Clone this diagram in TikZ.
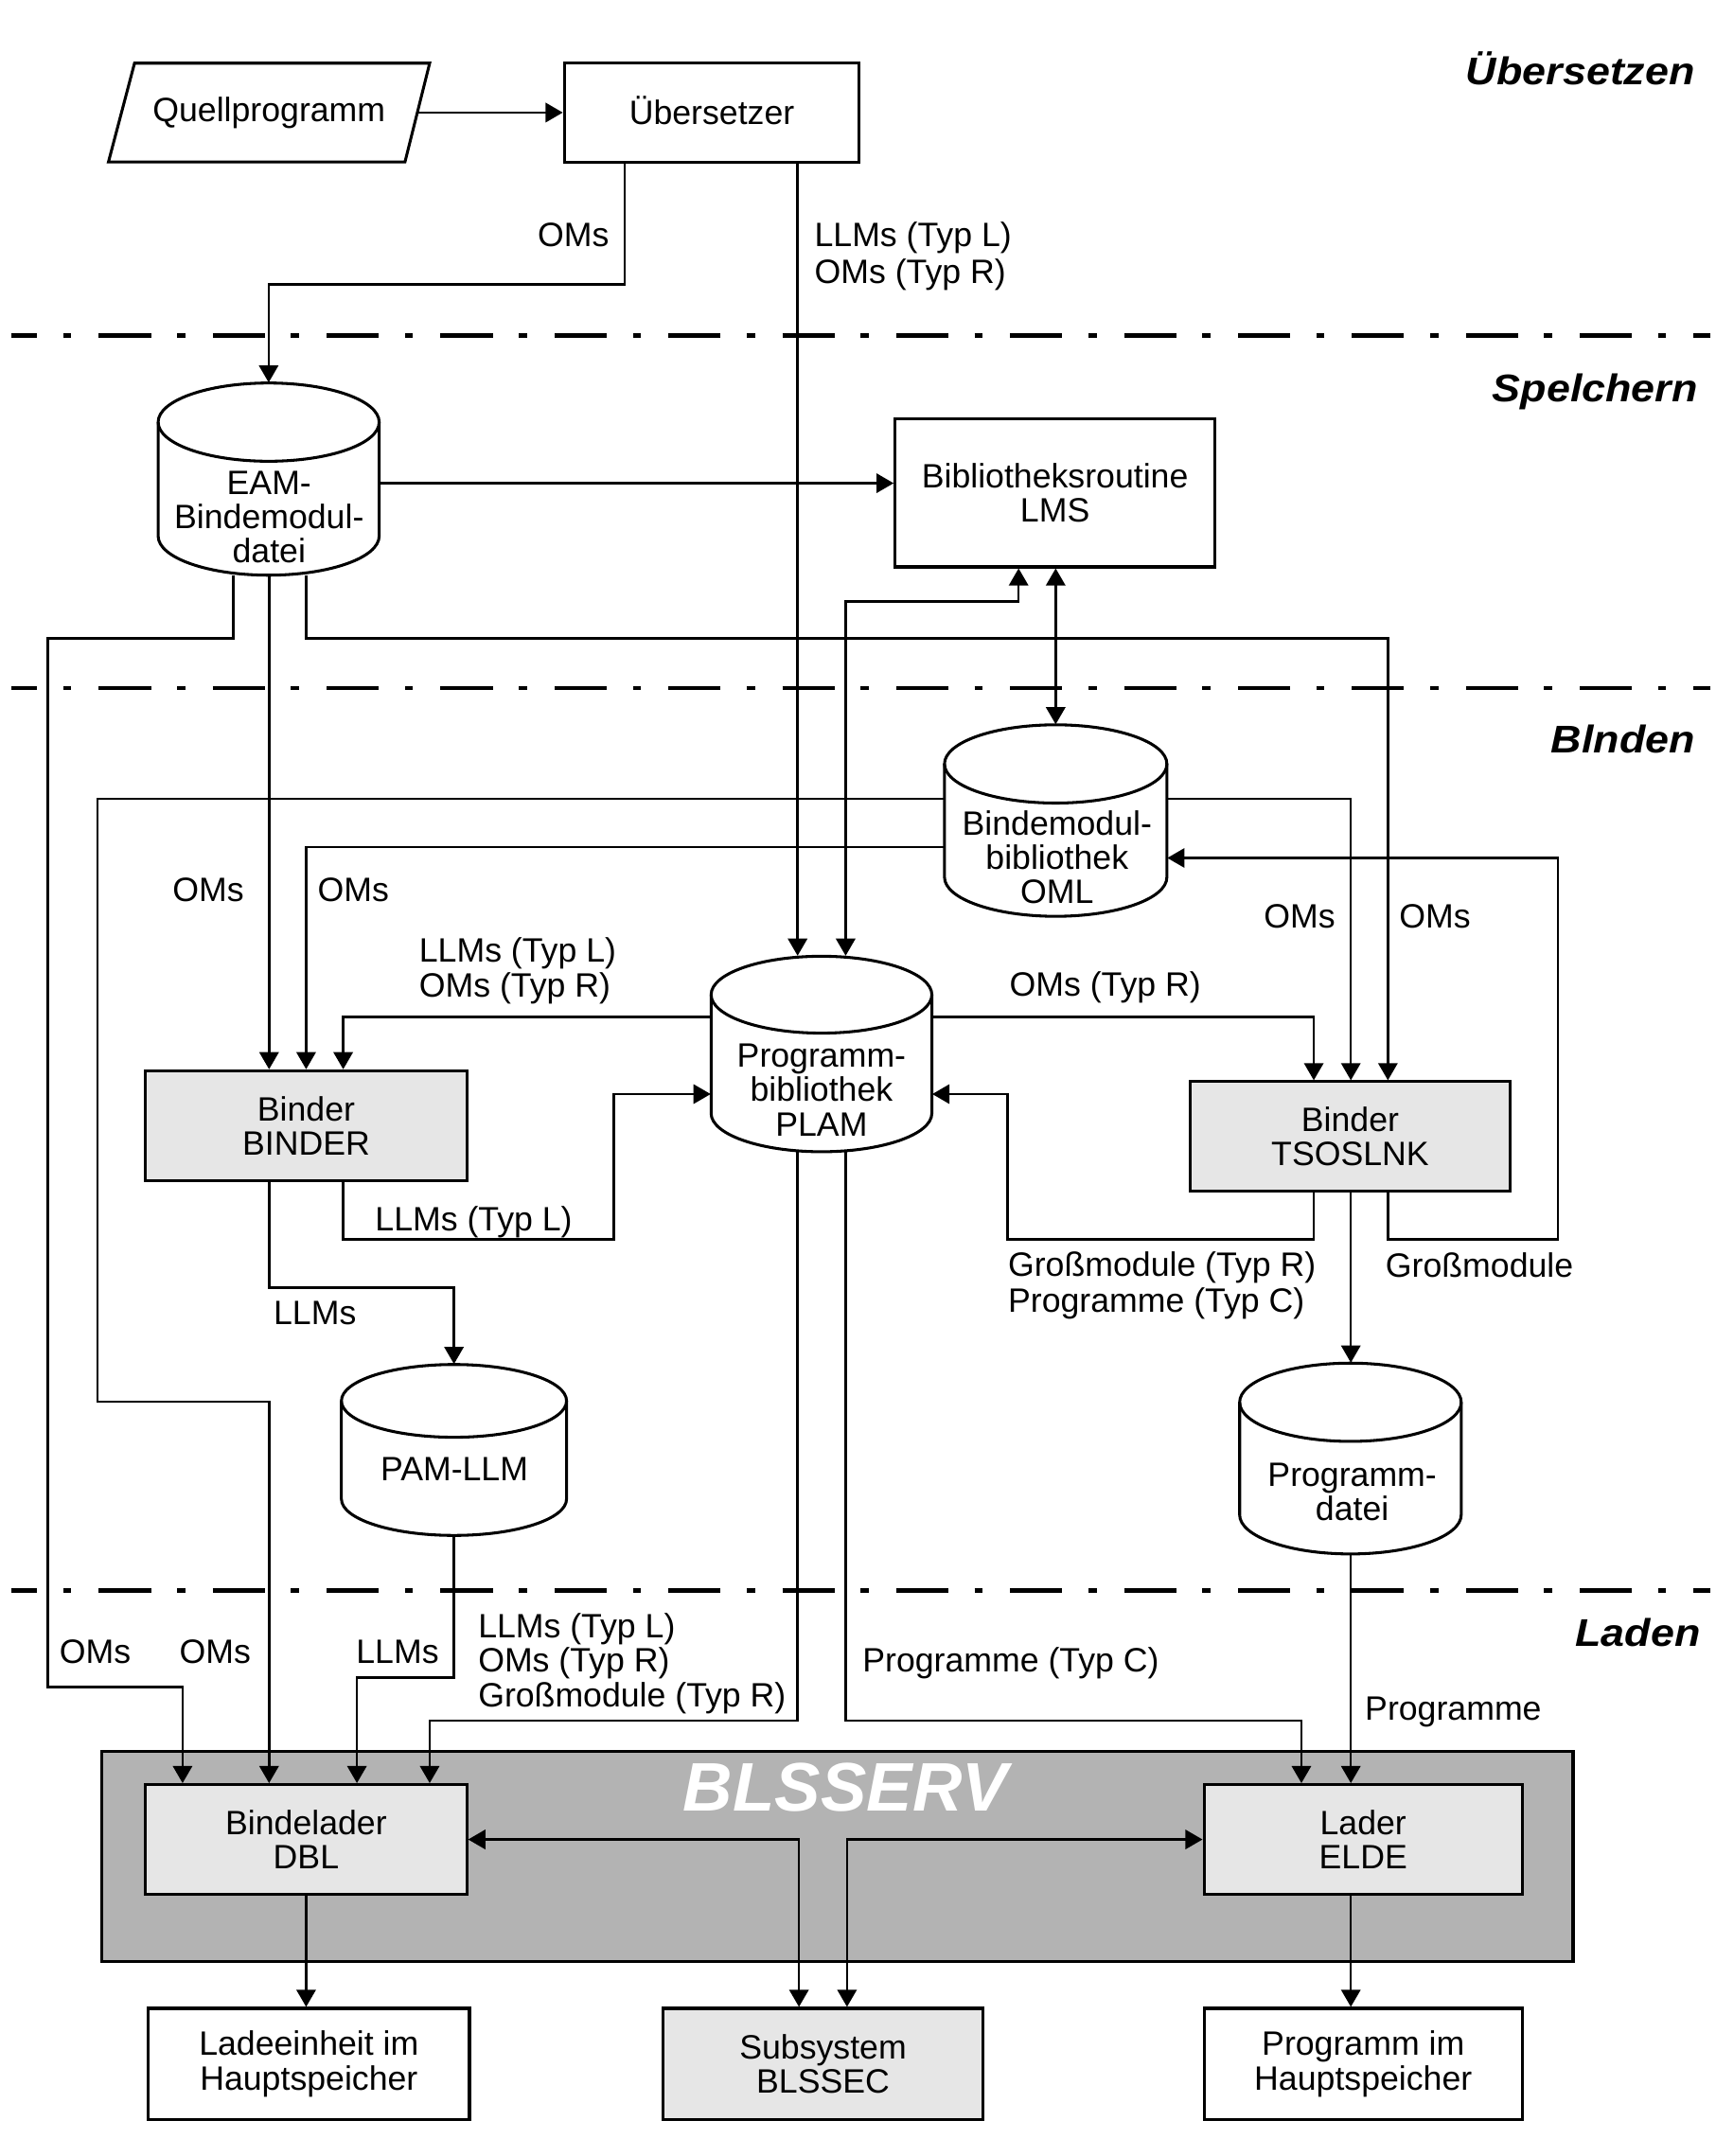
\documentclass[tikz,border=0pt]{standalone}
\usepackage{fontspec}
\setmainfont{Liberation Sans}
\newfontfamily\phasefont[FakeStretch=1.1]{Liberation Sans}
\usetikzlibrary{arrows.meta}
\definecolor{lightfill}{HTML}{E6E6E6}
\definecolor{servfill}{HTML}{B3B3B3}
\newcommand\labfont{\fontsize{14}{14.2}\selectfont}
\newcommand\dbcyl[6]{%
  \fill[white] (#2-#5,#3+#6) -- (#2-#5,#4-#6) arc[start angle=180,end angle=360,x radius=#5*0.02cm,y radius=#6*0.02cm] -- (#2+#5,#3+#6) arc[start angle=0,end angle=180,x radius=#5*0.02cm,y radius=#6*0.02cm] -- cycle;
  \draw[cylline] (#2-#5,#3+#6) -- (#2-#5,#4-#6) arc[start angle=180,end angle=360,x radius=#5*0.02cm,y radius=#6*0.02cm] -- (#2+#5,#3+#6);
  \draw[cylline] (#2,#3+#6) ellipse[x radius=#5*0.02cm,y radius=#6*0.02cm];
  \node[inner sep=0,minimum width=#5*0.04cm,minimum height=(#4-#3)*0.02cm] (#1) at (#2,{(#3+#4)/2}) {};
}
\begin{document}
\begin{tikzpicture}[x=0.02cm,y=-0.02cm,
  conn/.style={line width=1pt},
  arr/.style={conn,-{Triangle[length=0.25cm,width=0.28cm]}},
  darr/.style={conn,{Triangle[length=0.25cm,width=0.28cm]}-{Triangle[length=0.25cm,width=0.28cm]}},
  box/.style={draw,line width=1.2pt,inner sep=0,align=center,font=\labfont,fill=white},
  graybox/.style={box,fill=lightfill},
  lbl/.style={inner sep=0,font=\labfont},
  txt/.style={inner sep=0,font=\labfont,align=center},
  phase/.style={inner sep=0,font=\phasefont\bfseries\itshape\fontsize{16}{18}\selectfont,anchor=base east},
  sep/.style={line width=1.7pt,dash pattern=on 0.76cm off 0.38cm on 0.12cm off 0.4cm,dash phase=0.38cm},
  cylline/.style={line width=1.2pt}]
\useasboundingbox (0,0) rectangle (1250,1570.6);

% separators
\draw[sep] (8,244.4) -- (1246,244.4);
\draw[sep] (8,501) -- (1246,501);
\draw[sep] (8,1158.7) -- (1246,1158.7);

% phase labels
\node[phase] (p1) at (1235,62) {Übersetzen};
\node[phase] (p2) at (1237,292.8) {Spelchern};
\node[phase] (p3) at (1235,548.8) {Blnden};
\node[phase] (p4) at (1239,1199) {Laden};

% BLSSERV frame
\node[draw,line width=1.2pt,fill=servfill,inner sep=0,minimum width=21.44cm,minimum height=3.06cm] (serv) at (610,1352.5) {};
\node[inner sep=0,text=white,font=\bfseries\itshape\fontsize{28.5}{30}\selectfont] (servt) at (616,1302) {BLSSERV};

% top
\draw[line width=1.2pt] (98,46) -- (313,46) -- (295,118) -- (79,118) -- cycle;
\node[inner sep=0,minimum width=4.32cm,minimum height=1.44cm,font=\labfont] (quell) at (196,82) {Quellprogramm};
\node[box,minimum width=4.3cm,minimum height=1.44cm,text height=10pt,text depth=0pt] (ueb) at (518.5,82) {Übersetzer};
\node[box,minimum width=4.66cm,minimum height=2.16cm] (lms) at (768.5,359) {Bibliotheksroutine\\LMS};

% cylinders
\dbcyl{eam}{195.7}{279}{419}{80.5}{28.5}
\node[txt] (eamt) at (196,376.7) {EAM-\\Bindemodul-\\datei};
\dbcyl{oml}{769}{528}{667.5}{81}{28.5}
\node[txt] (omlt) at (770,624.3) {Bindemodul-\\bibliothek\\OML};
\dbcyl{plam}{598.4}{696.6}{839}{80.4}{28}
\node[txt] (plamt) at (598.4,794) {Programm-\\bibliothek\\PLAM};
\dbcyl{pam}{330.7}{994}{1118.5}{82}{26.5}
\node[txt] (pamt) at (331,1070) {PAM-LLM};
\dbcyl{pdat}{983.7}{993}{1132}{80.7}{28.5}
\node[txt] (pdatt) at (985,1087) {Programm-\\datei};

% boxes
\node[graybox,minimum width=4.68cm,minimum height=1.6cm] (binder) at (223,820) {Binder\\BINDER};
\node[graybox,minimum width=4.66cm,minimum height=1.6cm] (tsos) at (983.5,828) {Binder\\TSOSLNK};
\node[graybox,minimum width=4.68cm,minimum height=1.6cm] (dbl) at (223,1340) {Bindelader\\DBL};
\node[graybox,minimum width=4.64cm,minimum height=1.6cm] (elde) at (993,1340) {Lader\\ELDE};
\node[box,minimum width=4.68cm,minimum height=1.62cm] (lade) at (225,1503.5) {Ladeeinheit im\\Hauptspeicher};
\node[graybox,minimum width=4.66cm,minimum height=1.62cm] (sub) at (599.5,1503.5) {Subsystem\\BLSSEC};
\node[box,minimum width=4.64cm,minimum height=1.62cm] (prog) at (993,1503.5) {Programm im\\Hauptspeicher};

% connectors
\draw[arr] (quell.east) -- (ueb.west);
\draw[arr] (ueb.south -| 455,0) -- (455,207) -| (eam.north);
\draw[arr] (ueb.south -| 581,0) -- (plam.north -| 581,0);
\draw[arr] (eam.east |- 0,352) -- (lms.west |- 0,352);
\draw[darr] (plam.north -| 616,0) |- (742,438) -- (lms.south -| 742,0);
\draw[darr] (lms.south -| 769,0) -- (oml.north);
\draw[arr] (eam.south -| 170,0) |- (35,465) |- (133,1229) -- (dbl.north -| 133,0);
\draw[arr] (eam.south -| 196,0) -- (binder.north -| 196,0);
\draw[arr] (eam.south -| 223,0) |- (1011,465) -- (tsos.north -| 1011,0);
\draw[arr] (oml.west |- 0,582) -| (71,1021) -| (dbl.north -| 196,0);
\draw[arr] (oml.west |- 0,617) -| (binder.north);
\draw[arr] (oml.east |- 0,582) -| (tsos.north -| 984,0);
\draw[arr] (tsos.south -| 1011,0) |- (1135,903) |- (oml.east |- 0,625);
\draw[arr] (plam.west |- 0,741) -| (binder.north -| 250,0);
\draw[arr] (plam.east |- 0,741) -| (tsos.north -| 957,0);
\draw[arr] (binder.south -| 250,0) |- (447,903) |- (plam.west |- 0,797);
\draw[arr] (tsos.south -| 957,0) |- (734,903) |- (plam.east |- 0,797);
\draw[arr] (binder.south -| 196,0) -- (196,938) -| (pam.north);
\draw[arr] (pam.south) |- (260,1222) -- (dbl.north -| 260,0);
\draw[arr] (plam.south -| 581,0) |- (313,1253.5) -- (dbl.north -| 313,0);
\draw[arr] (plam.south -| 616,0) |- (948,1253.5) -- (elde.north -| 948,0);
\draw[arr] (tsos.south -| 984,0) -- (pdat.north -| 984,0);
\draw[arr] (pdat.south -| 984,0) -- (elde.north -| 984,0);
\draw[darr] (dbl.east) -| (sub.north -| 582,0);
\draw[darr] (elde.west) -| (sub.north -| 617,0);
\draw[arr] (dbl.south) -- (lade.north -| dbl.south);
\draw[arr] (elde.south -| 984,0) -- (prog.north -| 984,0);

% connector labels
\node[lbl,anchor=base east] (l1) at (444,179.9) {OMs};
\node[lbl,anchor=base west] (l2a) at (593,179.9) {LLMs (Typ L)};
\node[lbl,anchor=base west] (l2b) at (593,206.6) {OMs (Typ R)};
\node[lbl,anchor=base east] (l3) at (178,656.9) {OMs};
\node[lbl,anchor=base west] (l4) at (231,656.9) {OMs};
\node[lbl,anchor=base west] (l5a) at (305,701) {LLMs (Typ L)};
\node[lbl,anchor=base west] (l5b) at (305,726) {OMs (Typ R)};
\node[lbl,anchor=base west] (l6) at (735,725.9) {OMs (Typ R)};
\node[lbl,anchor=base east] (l7) at (973,675.9) {OMs};
\node[lbl,anchor=base west] (l8) at (1019,675.9) {OMs};
\node[lbl,anchor=base west] (l9) at (273,896.9) {LLMs (Typ L)};
\node[lbl,anchor=base west] (l10) at (199,964.7) {LLMs};
\node[lbl,anchor=base west] (l11a) at (734,929.9) {Großmodule (Typ R)};
\node[lbl,anchor=base west] (l11b) at (734,955.9) {Programme (Typ C)};
\node[lbl,anchor=base west] (l12) at (1009,930.3) {Großmodule};
\node[lbl,anchor=base west] (l13) at (43,1211.9) {OMs};
\node[lbl,anchor=base east] (l14) at (183,1211.9) {OMs};
\node[lbl,anchor=base east] (l15) at (320,1211.9) {LLMs};
\node[lbl,anchor=base west] (l16a) at (348,1193.4) {LLMs (Typ L)};
\node[lbl,anchor=base west] (l16b) at (348,1217.9) {OMs (Typ R)};
\node[lbl,anchor=base west] (l16c) at (348,1243.5) {Großmodule (Typ R)};
\node[lbl,anchor=base west] (l17) at (628,1218) {Programme (Typ C)};
\node[lbl,anchor=base west] (l18) at (994,1253.3) {Programme};
\end{tikzpicture}
\end{document}
